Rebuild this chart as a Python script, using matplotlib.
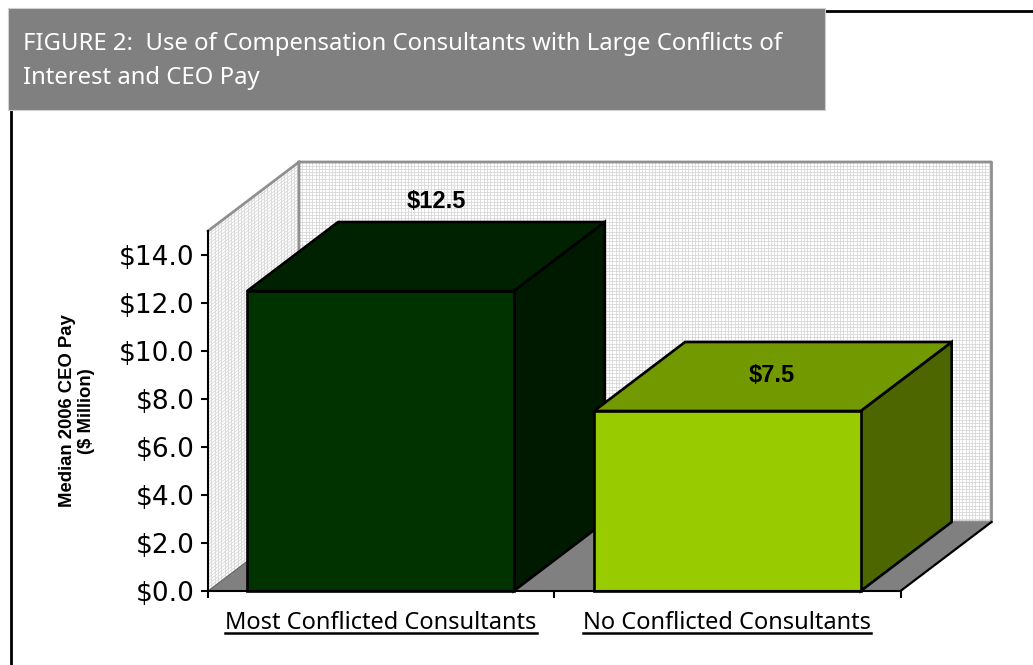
import numpy as np
import matplotlib
matplotlib.use("Agg")
import matplotlib.pyplot as plt
from matplotlib.patches import Polygon, Rectangle
from matplotlib.collections import LineCollection
from matplotlib.lines import Line2D

title = "FIGURE 2:  Use of Compensation Consultants with Large Conflicts of\nInterest and CEO Pay"
categories = ["Most Conflicted Consultants", "No Conflicted Consultants"]
values = [12.5, 7.5]
value_labels = ["$12.5", "$7.5"]
y_ticks = [0, 2, 4, 6, 8, 10, 12, 14]
y_tick_labels = ["$0.0", "$2.0", "$4.0", "$6.0", "$8.0", "$10.0", "$12.0", "$14.0"]
y_label = "Median 2006 CEO Pay\n($ Million)"

front_colors = ["#003300", "#99CC00"]
top_colors = ["#002200", "#739900"]
side_colors = ["#001A00", "#4D6600"]

W, H = 1033, 665
fig = plt.figure(figsize=(W / 100, H / 100), dpi=100, facecolor="white")
L, R, B, T = 208, 900.5, 591, 231
ax = fig.add_axes([L / W, 1 - B / H, (R - L) / W, (B - T) / H])
YMAX = 15
ax.set_xlim(0, len(categories))
ax.set_ylim(0, YMAX)
ax.patch.set_visible(False)

# depth vector of the 3D look, in data units
DX = 91 / ((R - L) / 2)
DY = 69 / ((B - T) / YMAX)
BAR_W = 0.77
XMAX = len(categories)

# walls
ax.add_patch(Polygon([(0, 0), (DX, DY), (DX, YMAX + DY), (0, YMAX)], fc="white", ec="none", zorder=1, clip_on=False))
ax.add_patch(Polygon([(DX, DY), (XMAX + DX, DY), (XMAX + DX, YMAX + DY), (DX, YMAX + DY)], fc="white", ec="none", zorder=1, clip_on=False))

# wall mesh
step_x = 3.3 / ((R - L) / 2)
step_y = 3.3 / ((B - T) / YMAX)
segs = []
for xv in np.arange(DX, XMAX + DX, step_x):
    segs.append([(xv, DY), (xv, YMAX + DY)])
for yv in np.arange(DY, YMAX + DY, step_y):
    segs.append([(DX, yv), (XMAX + DX, yv)])
for t in np.arange(0, 1, 3.3 / 91):
    segs.append([(t * DX, t * DY), (t * DX, YMAX + t * DY)])
for yv in np.arange(0, YMAX, step_y):
    segs.append([(0, yv), (DX, yv + DY)])
ax.add_collection(LineCollection(segs, colors="#D8D8D8", linewidths=0.6, zorder=2, clip_on=False))

# wall outline
edge = dict(color="#909090", lw=2, zorder=3, clip_on=False, solid_capstyle="projecting")
ax.plot([0, DX, XMAX + DX, XMAX + DX, DX, DX], [YMAX, YMAX + DY, YMAX + DY, DY, DY, YMAX + DY], **edge)

# floor
ax.add_patch(Polygon([(0, 0), (XMAX, 0), (XMAX + DX, DY), (DX, DY)], fc="#808080", ec="none", zorder=4, clip_on=False))
ax.plot([XMAX, XMAX + DX], [0, DY], color="black", lw=1.6, zorder=4.5, clip_on=False)
ax.plot([0, DX], [0, DY], color="#666666", lw=0.8, zorder=4.5, clip_on=False)

# bars
bar_edge = dict(ec="black", lw=1.9, joinstyle="miter", clip_on=False)
for i, v in enumerate(values):
    x0 = i + 0.5 - BAR_W / 2 - 0.002 + 0.002 * i
    x1 = x0 + BAR_W
    ax.add_patch(Polygon([(x1, 0), (x1 + DX, DY), (x1 + DX, v + DY), (x1, v)], fc=side_colors[i], zorder=5 + i, **bar_edge))
    ax.add_patch(Polygon([(x0, v), (x1, v), (x1 + DX, v + DY), (x0 + DX, v + DY)], fc=top_colors[i], zorder=5 + i, **bar_edge))
    ax.add_patch(Rectangle((x0, 0), BAR_W, v, fc=front_colors[i], zorder=5 + i, **bar_edge))

# value labels
label_offsets = [(55, 89), (44, 35)]
for i, v in enumerate(values):
    ax.annotate(value_labels[i], (i + 0.5, v), xytext=(label_offsets[i][0] * 0.72, label_offsets[i][1] * 0.72),
                textcoords="offset points", ha="center", va="center", fontsize=17,
                fontweight="bold", family="Liberation Sans", color="black", zorder=10)

# axes
for s in ["top", "right"]:
    ax.spines[s].set_visible(False)
for s in ["left", "bottom"]:
    ax.spines[s].set_linewidth(1.5)
    ax.spines[s].set_zorder(9)
ax.set_yticks(y_ticks)
ax.set_yticklabels(y_tick_labels, fontsize=19, family="DejaVu Sans")
ax.tick_params(axis="y", length=5, width=1.5, pad=4.5)
ax.set_xticks(range(len(categories) + 1))
ax.set_xticklabels([""] * (len(categories) + 1))
ax.tick_params(axis="x", which="major", length=5, width=1.5)
ax.set_xticks([i + 0.5 for i in range(len(categories))], minor=True)
ax.set_xticklabels(categories, minor=True, fontsize=17, family="Noto Sans")
ax.tick_params(axis="x", which="minor", length=0, pad=14.5)

fig.text(77 / W, 1 - 411 / H, y_label, rotation=90, ha="center", va="center", fontsize=13.3,
         fontweight="bold", family="Liberation Sans", linespacing=1.17)

# frame and title box
fig.add_artist(Line2D([11 / W, 11 / W], [0, 1 - 100 / H], color="black", lw=2))
fig.add_artist(Line2D([800 / W, 1], [1 - 11 / H, 1 - 11 / H], color="black", lw=2))
fig.add_artist(Rectangle((8 / W, 1 - 110 / H), 817 / W, 102 / H, transform=fig.transFigure,
                         fc="#808080", ec="#D0D0D0", lw=0.8, zorder=5))
fig.text(23 / W, 1 - 61 / H, title, color="white", fontsize=17.2, family="Noto Sans",
         ha="left", va="center", linespacing=1.55, zorder=6)

# underline the category labels
fig.canvas.draw()
renderer = fig.canvas.get_renderer()
for lab in ax.get_xticklabels(minor=True):
    bb = lab.get_window_extent(renderer)
    fig.add_artist(Line2D([bb.x0 / W, bb.x1 / W], [1 - 632.5 / H] * 2, color="black", lw=1.8))

fig.savefig("out.png", dpi=100)
